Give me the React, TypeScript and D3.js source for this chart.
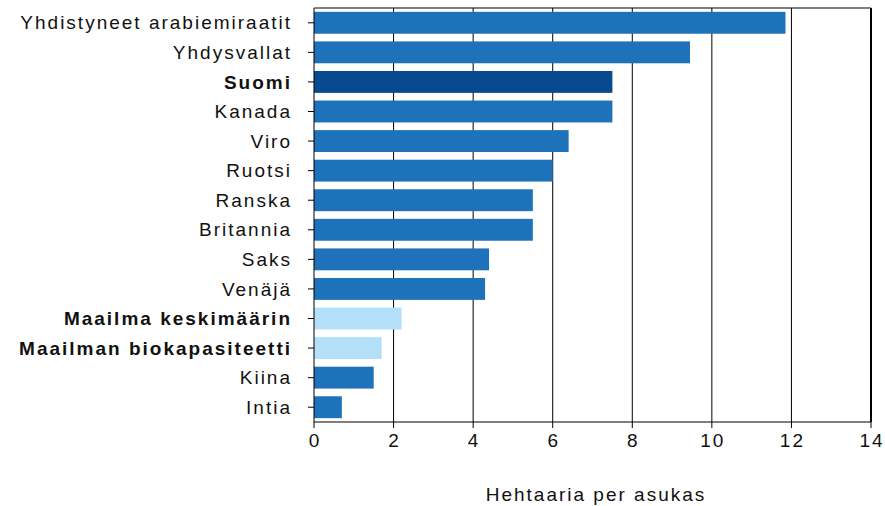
import React from "react";
import * as d3 from "d3";

const countries = [
  "Yhdistyneet arabiemiraatit",
  "Yhdysvallat",
  "Suomi",
  "Kanada",
  "Viro",
  "Ruotsi",
  "Ranska",
  "Britannia",
  "Saks",
  "Venäjä",
  "Maailma keskimäärin",
  "Maailman biokapasiteetti",
  "Kiina",
  "Intia",
];
const values = [11.85, 9.45, 7.5, 7.5, 6.4, 6.0, 5.5, 5.5, 4.4, 4.3, 2.2, 1.7, 1.5, 0.7];
const boldRows = ["Suomi", "Maailma keskimäärin", "Maailman biokapasiteetti"];
const xTicks = [0, 2, 4, 6, 8, 10, 12, 14];

const width = 885;
const height = 506;
const marginLeft = 314;
const marginRight = 14;
const marginTop = 8;
const marginBottom = 84;

const barColor = (name: string) => {
  if (name === "Suomi") return "#074a90";
  if (name.startsWith("Maailma")) return "#b3dff8";
  return "#1d72ba";
};

export default function App() {
  const x = d3.scaleLinear().domain([0, 14]).range([marginLeft, width - marginRight]);
  const y = d3
    .scaleBand<string>()
    .domain(countries)
    .range([marginTop, height - marginBottom])
    .paddingInner(0.26)
    .paddingOuter(0.13);
  const bottom = height - marginBottom;
  const font = { fontSize: 19, letterSpacing: 2 };

  return (
    <svg
      width={width}
      height={height}
      style={{ position: "absolute", left: 0, top: 0, background: "#fff" }}
      fontFamily="'Liberation Sans', Arial, sans-serif"
    >
      {/* gridlines */}
      {xTicks.slice(1).map((t) => (
        <line key={t} x1={x(t)} x2={x(t)} y1={marginTop} y2={bottom} stroke="#000" strokeWidth={t === 14 ? 2 : 1} />
      ))}
      <line x1={marginLeft} x2={x(14)} y1={marginTop} y2={marginTop} stroke="#000" strokeWidth={1} />

      {countries.map((c, i) => (
        <rect
          key={c}
          x={x(0)}
          y={y(c)}
          width={x(values[i]) - x(0)}
          height={y.bandwidth()}
          fill={barColor(c)}
        />
      ))}

      {/* left axis */}
      <line x1={marginLeft} x2={marginLeft} y1={marginTop} y2={bottom} stroke="#000" />
      {countries.map((c) => {
        const cy = (y(c) as number) + y.bandwidth() / 2;
        const bold = boldRows.includes(c);
        return (
          <g key={c}>
            <line x1={marginLeft - 6} x2={marginLeft} y1={cy} y2={cy} stroke="#000" />
            <text
              x={292}
              y={cy}
              dy="0.35em"
              textAnchor="end"
              {...font}
              fontWeight={bold ? "bold" : "normal"}
              fill="#111"
            >
              {c}
            </text>
          </g>
        );
      })}

      {/* bottom axis */}
      <line x1={marginLeft} x2={x(14)} y1={bottom} y2={bottom} stroke="#000" />
      {xTicks.map((t) => (
        <g key={t}>
          <line x1={x(t)} x2={x(t)} y1={bottom} y2={bottom + 6} stroke="#000" />
          <text x={x(t) + 1} y={bottom + 12} dy="0.71em" textAnchor="middle" {...font} fill="#111">
            {t}
          </text>
        </g>
      ))}
      <text x={596} y={494} dy="0.35em" textAnchor="middle" {...font} fill="#111">
        Hehtaaria per asukas
      </text>
    </svg>
  );
}
